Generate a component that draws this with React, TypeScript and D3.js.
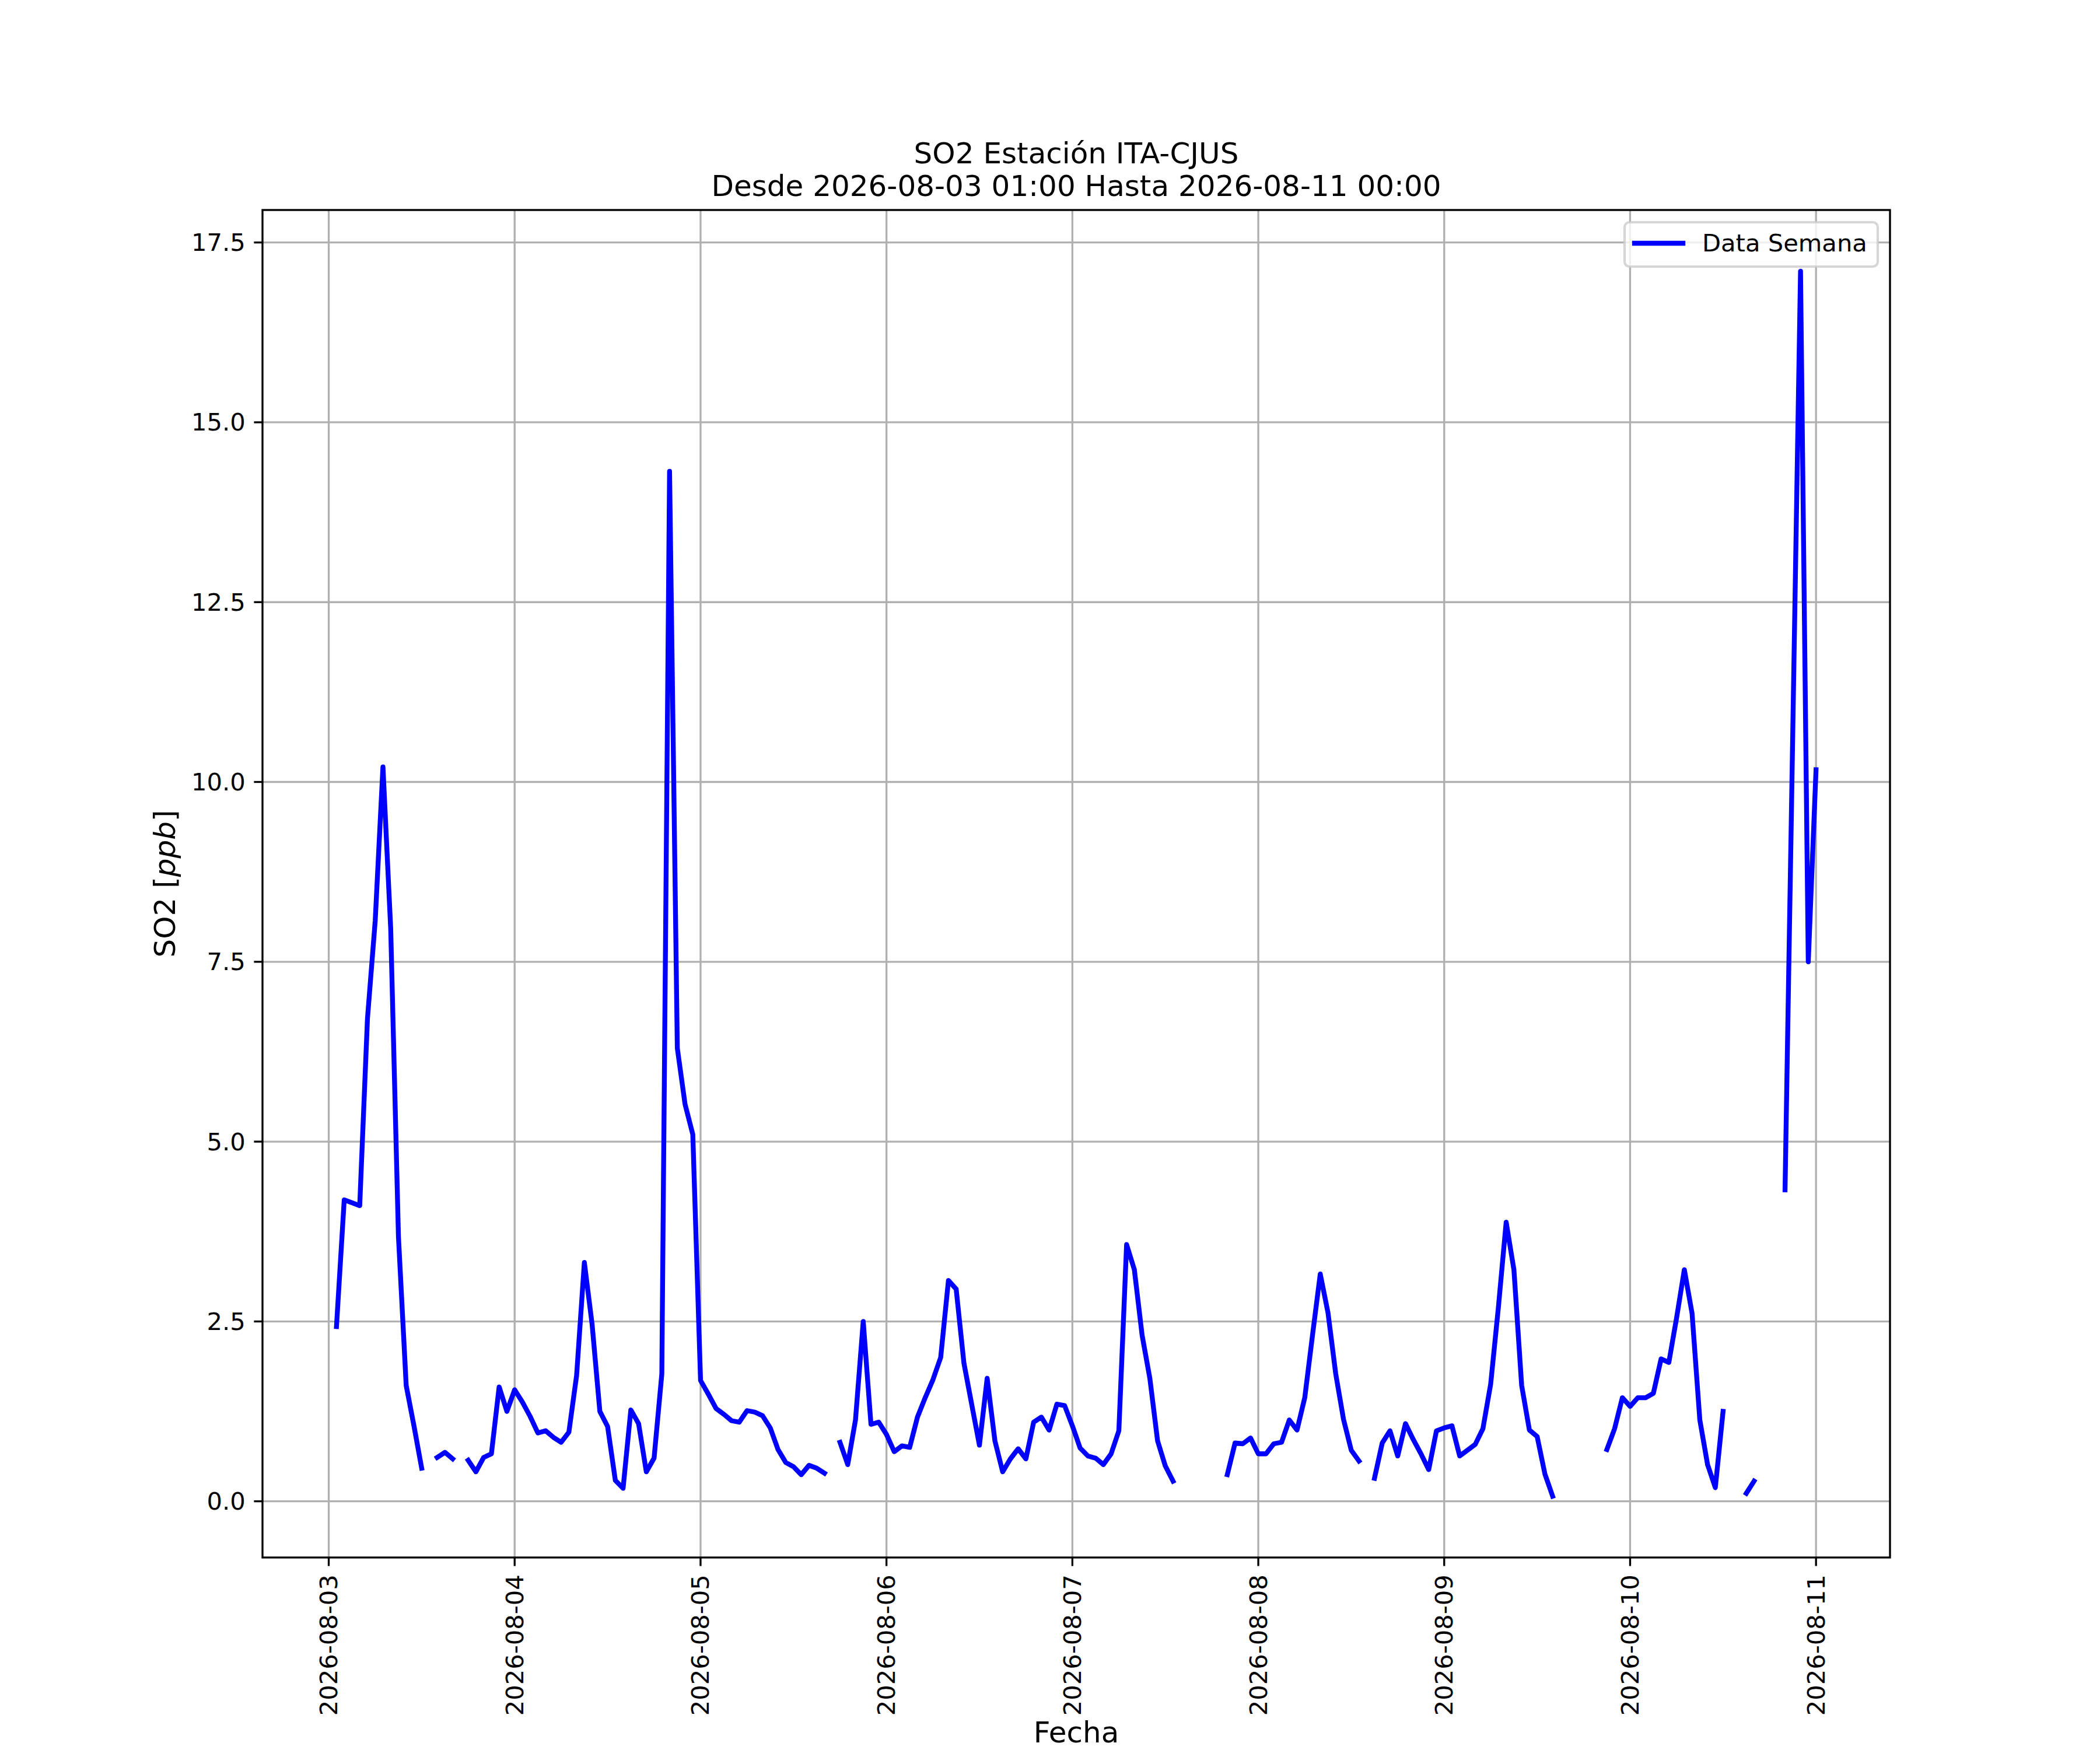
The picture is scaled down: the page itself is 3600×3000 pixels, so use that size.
import React, { useEffect, useRef } from 'react';
import * as d3 from 'd3';

// Hourly SO2 readings, each day runs from 01:00 to 00:00 of the next day (null = no data)
const startHour = Date.UTC(2026, 7, 3, 1);

const day03 = [2.43, 4.19, 4.15, 4.11, 6.71, 8.07, 10.21, 7.96, 3.68, 1.61, 1.05, 0.46, null, 0.61, 0.68, 0.59, null, 0.57, 0.41, 0.61, 0.66, 1.59, 1.25, 1.55];
const day04 = [1.38, 1.18, 0.95, 0.98, 0.89, 0.82, 0.96, 1.75, 3.32, 2.46, 1.25, 1.04, 0.29, 0.18, 1.27, 1.08, 0.41, 0.6, 1.77, 14.32, 6.3, 5.52, 5.1, 1.68];
const day05 = [1.49, 1.29, 1.21, 1.12, 1.1, 1.26, 1.24, 1.19, 1.02, 0.72, 0.54, 0.48, 0.37, 0.5, 0.46, 0.39, null, 0.82, 0.51, 1.13, 2.5, 1.07, 1.1, 0.93];
const day06 = [0.69, 0.77, 0.75, 1.17, 1.44, 1.69, 2.0, 3.07, 2.95, 1.92, 1.35, 0.78, 1.71, 0.84, 0.41, 0.59, 0.73, 0.59, 1.1, 1.17, 0.99, 1.35, 1.33, 1.05];
const day07 = [0.74, 0.63, 0.6, 0.51, 0.66, 0.98, 3.57, 3.22, 2.31, 1.71, 0.84, 0.49, 0.28, null, null, null, null, null, null, 0.37, 0.81, 0.8, 0.88, 0.66];
const day08 = [0.66, 0.8, 0.82, 1.13, 0.99, 1.44, 2.31, 3.16, 2.62, 1.77, 1.14, 0.71, 0.56, null, 0.32, 0.81, 0.98, 0.63, 1.08, 0.86, 0.66, 0.44, 0.98, 1.02];
const day09 = [1.05, 0.63, 0.71, 0.79, 1.01, 1.63, 2.7, 3.88, 3.22, 1.61, 0.99, 0.9, 0.38, 0.07, null, null, null, null, null, null, 0.72, 1.01, 1.44, 1.32];
const day10 = [1.44, 1.44, 1.5, 1.98, 1.93, 2.55, 3.22, 2.61, 1.13, 0.51, 0.19, 1.25, null, null, 0.11, 0.28, null, null, null, 4.33, 10.7, 17.1, 7.5, 10.17];

const yTicks = [0, 2.5, 5, 7.5, 10, 12.5, 15, 17.5];
const xTickDays = ['2026-08-03', '2026-08-04', '2026-08-05', '2026-08-06', '2026-08-07', '2026-08-08', '2026-08-09', '2026-08-10', '2026-08-11'];

const titleLines = ['SO2 Estación ITA-CJUS', 'Desde 2026-08-03 01:00 Hasta 2026-08-11 00:00'];
const seriesName = 'Data Semana';

const W = 3600;
const H = 3000;
const left = 450, right = 3240, top = 360, bottom = 2670;
const font = 'DejaVu Sans, Liberation Sans, sans-serif';

const App: React.FC = () => {
  const ref = useRef<SVGSVGElement>(null);

  useEffect(() => {
    const svg = d3.select(ref.current);
    svg.selectAll('*').remove();

    const values = [...day03, ...day04, ...day05, ...day06, ...day07, ...day08, ...day09, ...day10];
    const data = values.map((v, i) => ({ t: new Date(startHour + i * 3600e3), v }));

    // matplotlib style 5% auto margins
    const t0 = data[0].t.getTime();
    const t1 = data[data.length - 1].t.getTime();
    const tPad = (t1 - t0) * 0.05;
    const nums = values.filter((v): v is number => v != null);
    const vMin = d3.min(nums) as number;
    const vMax = d3.max(nums) as number;
    const vPad = (vMax - vMin) * 0.05;

    const x = d3.scaleUtc().domain([new Date(t0 - tPad), new Date(t1 + tPad)]).range([left, right]);
    const y = d3.scaleLinear().domain([vMin - vPad, vMax + vPad]).range([bottom, top]);

    const parse = d3.utcParse('%Y-%m-%d');
    const fmt = d3.utcFormat('%Y-%m-%d');
    const xTicks = xTickDays.map(s => parse(s) as Date);

    svg.append('rect').attr('width', W).attr('height', H).attr('fill', '#fff');

    // grid
    const grid = svg.append('g').attr('stroke', '#b0b0b0').attr('stroke-width', 3.33);
    grid.selectAll('.gx').data(xTicks).enter().append('line')
      .attr('x1', d => x(d)).attr('x2', d => x(d)).attr('y1', top).attr('y2', bottom);
    grid.selectAll('.gy').data(yTicks).enter().append('line')
      .attr('x1', left).attr('x2', right).attr('y1', d => y(d)).attr('y2', d => y(d));

    // data line
    const line = d3.line<{ t: Date; v: number | null }>()
      .defined(d => d.v != null)
      .x(d => x(d.t))
      .y(d => y(d.v as number));

    svg.append('path')
      .datum(data)
      .attr('d', line)
      .attr('fill', 'none')
      .attr('stroke', '#0000ff')
      .attr('stroke-width', 8.33)
      .attr('stroke-linejoin', 'round')
      .attr('stroke-linecap', 'square');

    // spines
    svg.append('rect')
      .attr('x', left).attr('y', top).attr('width', right - left).attr('height', bottom - top)
      .attr('fill', 'none').attr('stroke', '#000').attr('stroke-width', 3.33);

    // x ticks + labels
    const xt = svg.append('g');
    xt.selectAll('line').data(xTicks).enter().append('line')
      .attr('x1', d => x(d)).attr('x2', d => x(d)).attr('y1', bottom).attr('y2', bottom + 14.6)
      .attr('stroke', '#000').attr('stroke-width', 3.33);
    xt.selectAll('text').data(xTicks).enter().append('text')
      .attr('transform', d => `translate(${x(d)},${bottom + 29.2}) rotate(-90)`)
      .attr('text-anchor', 'end')
      .attr('dominant-baseline', 'central')
      .attr('font-family', font).attr('font-size', 41.67)
      .text(d => fmt(d));

    // y ticks + labels
    const yt = svg.append('g');
    yt.selectAll('line').data(yTicks).enter().append('line')
      .attr('x1', left - 14.6).attr('x2', left).attr('y1', d => y(d)).attr('y2', d => y(d))
      .attr('stroke', '#000').attr('stroke-width', 3.33);
    yt.selectAll('text').data(yTicks).enter().append('text')
      .attr('x', left - 29.2).attr('y', d => y(d))
      .attr('text-anchor', 'end')
      .attr('dominant-baseline', 'central')
      .attr('font-family', font).attr('font-size', 41.67)
      .text(d => d.toFixed(1));

    // axis labels
    svg.append('text')
      .attr('x', (left + right) / 2).attr('y', 2987)
      .attr('text-anchor', 'middle')
      .attr('font-family', font).attr('font-size', 50)
      .text('Fecha');

    const yl = svg.append('text')
      .attr('transform', `translate(300,${(top + bottom) / 2}) rotate(-90)`)
      .attr('text-anchor', 'middle')
      .attr('font-family', font).attr('font-size', 50);
    yl.append('tspan').text('SO2 [');
    yl.append('tspan').attr('font-style', 'italic').text('ppb');
    yl.append('tspan').text(']');

    // title
    svg.append('g').selectAll('text').data(titleLines).enter().append('text')
      .attr('x', (left + right) / 2)
      .attr('y', (_, i) => 280 + i * 56)
      .attr('text-anchor', 'middle')
      .attr('font-family', font).attr('font-size', 50)
      .text(d => d);

    // legend
    const lg = svg.append('g');
    lg.append('rect')
      .attr('x', 2785).attr('y', 381).attr('width', 434).attr('height', 76)
      .attr('rx', 8.3)
      .attr('fill', '#fff').attr('fill-opacity', 0.8)
      .attr('stroke', '#cccccc').attr('stroke-opacity', 0.8).attr('stroke-width', 4.17);
    lg.append('line')
      .attr('x1', 2802).attr('x2', 2885).attr('y1', 417).attr('y2', 417)
      .attr('stroke', '#0000ff').attr('stroke-width', 8.33).attr('stroke-linecap', 'square');
    lg.append('text')
      .attr('x', 2918).attr('y', 431)
      .attr('font-family', font).attr('font-size', 41.67)
      .text(seriesName);
  }, []);

  return (
    <svg ref={ref} width={W} height={H} style={{ position: 'absolute', left: 0, top: 0 }} />
  );
};

export default App;
